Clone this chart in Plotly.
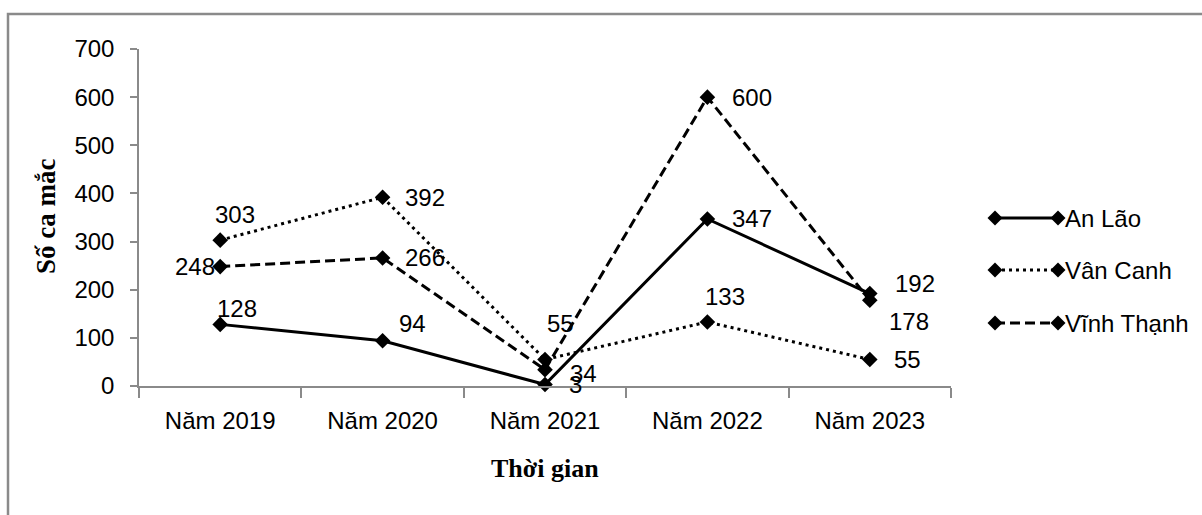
import plotly.graph_objects as go

# Số ca mắc theo năm ở ba huyện
years = ["Năm 2019", "Năm 2020", "Năm 2021", "Năm 2022", "Năm 2023"]
an_lao = [128, 94, 3, 347, 192]
van_canh = [303, 392, 55, 133, 55]
vinh_thanh = [248, 266, 34, 600, 178]
series_names = ["An Lão", "Vân Canh", "Vĩnh Thạnh"]
y_ticks = [0, 100, 200, 300, 400, 500, 600, 700]

W, H = 1202, 515
FONT_BOLD = "Liberation Serif"
FONT = "Liberation Sans"
FS = 24
AXIS_GREY = "#8a8a8a"

# plot area in pixels
X0, X1 = 139, 951
Y_TOP, Y_ZERO = 49, 386


def px(x):
    return x / W


def py(y):
    return 1 - y / H


series = [an_lao, van_canh, vinh_thanh]
dashes = ["solid", "3px,4px", "10px,5px"]

fig = go.Figure()
for name, vals, dash in zip(series_names, series, dashes):
    fig.add_trace(go.Scatter(
        x=years, y=vals, name=name, mode="lines+markers",
        line=dict(color="black", width=3, dash=dash),
        marker=dict(symbol="diamond", size=12, color="black"),
        showlegend=False, cliponaxis=False,
    ))

# data label placement: (xanchor, xshift, yshift) per point
label_pos = [
    [("left", -5, 16), ("left", 14, 17), ("left", 22, 0), ("left", 23, 0), ("left", 23, 10)],
    [("left", -7, 26), ("left", 20, 0), ("left", 0, 36), ("left", -4, 25), ("left", 22, 0)],
    [("right", -3, 0), ("left", 20, 0), ("left", 23, -4), ("left", 23, 0), ("left", 17, -21)],
]

annotations = []
for vals, pos in zip(series, label_pos):
    for cat, v, (anc, dx, dy) in zip(years, vals, pos):
        annotations.append(dict(
            x=cat, y=v, xref="x", yref="y", text=str(v), showarrow=False,
            xanchor=anc, yanchor="middle", xshift=dx, yshift=dy,
            font=dict(family=FONT, size=FS, color="black"),
        ))

# axis titles
annotations.append(dict(
    x=px((X0 + X1) / 2), y=py(468), xref="paper", yref="paper",
    text="<b>Thời gian</b>", showarrow=False, xanchor="center", yanchor="middle",
    font=dict(family=FONT_BOLD, size=26, color="black"),
))
annotations.append(dict(
    x=px(46), y=py(217), xref="paper", yref="paper",
    text="<b>Số ca mắc</b>", showarrow=False, xanchor="center", yanchor="middle",
    textangle=-90, font=dict(family=FONT_BOLD, size=27, color="black"),
))

shapes = []
# outer chart frame (left and top edges)
shapes.append(dict(
    type="path", xref="paper", yref="paper",
    path=f"M {px(8)} {py(H)} L {px(8)} {py(14)} L {px(W)} {py(14)}",
    line=dict(color=AXIS_GREY, width=2.5),
))

# legend: line with a diamond at each end, then the label
legend_rows = [218, 270, 323]
LX0, LX1 = 995, 1058
R = 7.5
for name, dash, yc in zip(series_names, dashes, legend_rows):
    shapes.append(dict(
        type="line", xref="paper", yref="paper",
        x0=px(LX0), x1=px(LX1), y0=py(yc), y1=py(yc),
        line=dict(color="black", width=3, dash=dash),
    ))
    for cx in (LX0, LX1):
        shapes.append(dict(
            type="path", xref="paper", yref="paper",
            path=(f"M {px(cx - R)} {py(yc)} L {px(cx)} {py(yc - R)} "
                  f"L {px(cx + R)} {py(yc)} L {px(cx)} {py(yc + R)} Z"),
            fillcolor="black", line=dict(color="black", width=0),
        ))
    annotations.append(dict(
        x=px(1063), y=py(yc), xref="paper", yref="paper", text=name,
        showarrow=False, xanchor="left", yanchor="middle",
        font=dict(family=FONT, size=FS, color="black"),
    ))

fig.update_layout(
    width=W, height=H,
    margin=dict(l=0, r=0, t=0, b=0, autoexpand=False),
    paper_bgcolor="white", plot_bgcolor="white",
    font=dict(family=FONT, size=FS, color="black"),
    xaxis=dict(
        domain=[px(X0), px(X1)], type="category", range=[-0.5, 4.5],
        automargin=False,
        showline=True, linecolor=AXIS_GREY, linewidth=1.5,
        ticks="outside", tickson="boundaries", ticklen=10,
        tickcolor=AXIS_GREY, tickwidth=1.5, showgrid=False, zeroline=False,
        ticklabelstandoff=12,
        tickfont=dict(family=FONT, size=FS, color="black"),
    ),
    yaxis=dict(
        domain=[py(Y_ZERO), py(Y_TOP)], range=[0, 700], automargin=False,
        tickvals=y_ticks, showline=True, linecolor=AXIS_GREY, linewidth=1.5,
        ticks="outside", ticklen=7, tickcolor=AXIS_GREY, tickwidth=1.5,
        showgrid=False, zeroline=False, ticklabelstandoff=11,
        tickfont=dict(family=FONT, size=FS, color="black"),
    ),
    annotations=annotations, shapes=shapes, showlegend=False,
)

fig.write_html("out.html")
